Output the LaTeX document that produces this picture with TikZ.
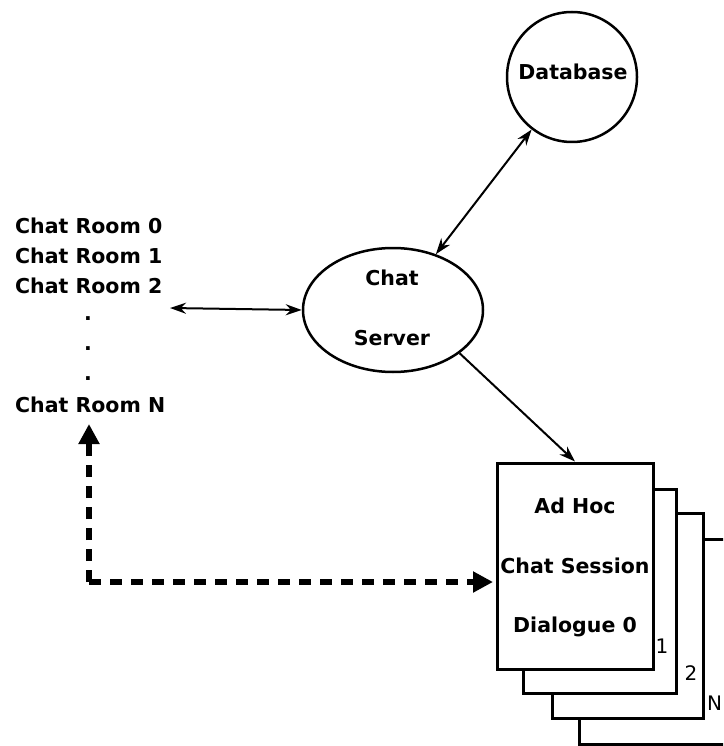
\documentclass[tikz,border=0pt]{standalone}
\usepackage{fontspec}
\setmainfont{DejaVu Sans}
\usetikzlibrary{arrows.meta,shapes.geometric}
\begin{document}
\begin{tikzpicture}[x=1pt,y=-1pt,
  lbl/.style={inner sep=0pt,anchor=base,font=\fontsize{20.5}{23}\selectfont\bfseries},
  lblw/.style={lbl,anchor=base west},
  num/.style={inner sep=0pt,anchor=base,font=\fontsize{20}{22}\selectfont},
  sheet/.style={line width=3pt,fill=white},
  conn/.style={line width=2pt,-{Stealth[length=16pt,width=11pt]}},
  bconn/.style={line width=2pt,{Stealth[length=16pt,width=11pt]}-{Stealth[length=16pt,width=11pt]}},
  dconn/.style={line width=5.5pt,dash pattern=on 12pt off 9pt,-{Triangle[length=20pt,width=20pt]}}
]
\useasboundingbox (0,0) rectangle (723,746);
\clip (0,0) rectangle (723,746);
\fill[white] (0,0) rectangle (723,746);

% stacked sheets (back to front)
\draw[sheet] (579,539) rectangle (740,744.5);
\node[num,anchor=base west] (labN) at (707,710) {N};
\draw[sheet] (552,513) rectangle (703,718);
\node[num] (lab2) at (691,680) {2};
\draw[sheet] (523,489) rectangle (676,693);
\node[num] (lab1) at (662,653) {1};
\node[draw,sheet,minimum width=156pt,minimum height=206pt,inner sep=0pt] (box0) at (575,566) {};
\node[lbl] (t1) at (575,513) {Ad Hoc};
\node[lbl] (t2) at (575,573) {Chat Session};
\node[lbl] (t3) at (575,632) {Dialogue 0};

% database
\node[draw,circle,line width=2.5pt,minimum size=130pt,inner sep=0pt] (db) at (572,77) {};
\node[lbl] (dbt) at (573,80) {Database};

% chat server
\node[draw,ellipse,line width=2.5pt,minimum width=180pt,minimum height=124pt,inner sep=0pt] (server) at (393,310) {};
\node[lbl] (s1) at (392,285) {Chat};
\node[lbl] (s2) at (392,345) {Server};

% chat rooms
\node[lblw] (r0) at (15,233) {Chat Room 0};
\node[lblw] (r1) at (15,263) {Chat Room 1};
\node[lblw] (r2) at (15,293) {Chat Room 2};
\node[lbl,anchor=center] (d1) at (88,319) {.};
\node[lbl,anchor=center] (d2) at (88,349) {.};
\node[lbl,anchor=center] (d3) at (88,379) {.};
\node[lblw] (rN) at (15,412) {Chat Room N};

% connectors
\coordinate (roomsR) at (170,308);
\draw[bconn] (roomsR) -- (server.west);
\draw[bconn] (server) -- (db);
\draw[conn] (server.-33) -- (box0.north);

\coordinate (corner) at (89,582);
\coordinate (upEnd) at (89,424);
\coordinate (rightEnd) at (493,582);
\draw[dconn] (corner) -- (upEnd);
\draw[dconn] (corner) -- (rightEnd);
\end{tikzpicture}
\end{document}
